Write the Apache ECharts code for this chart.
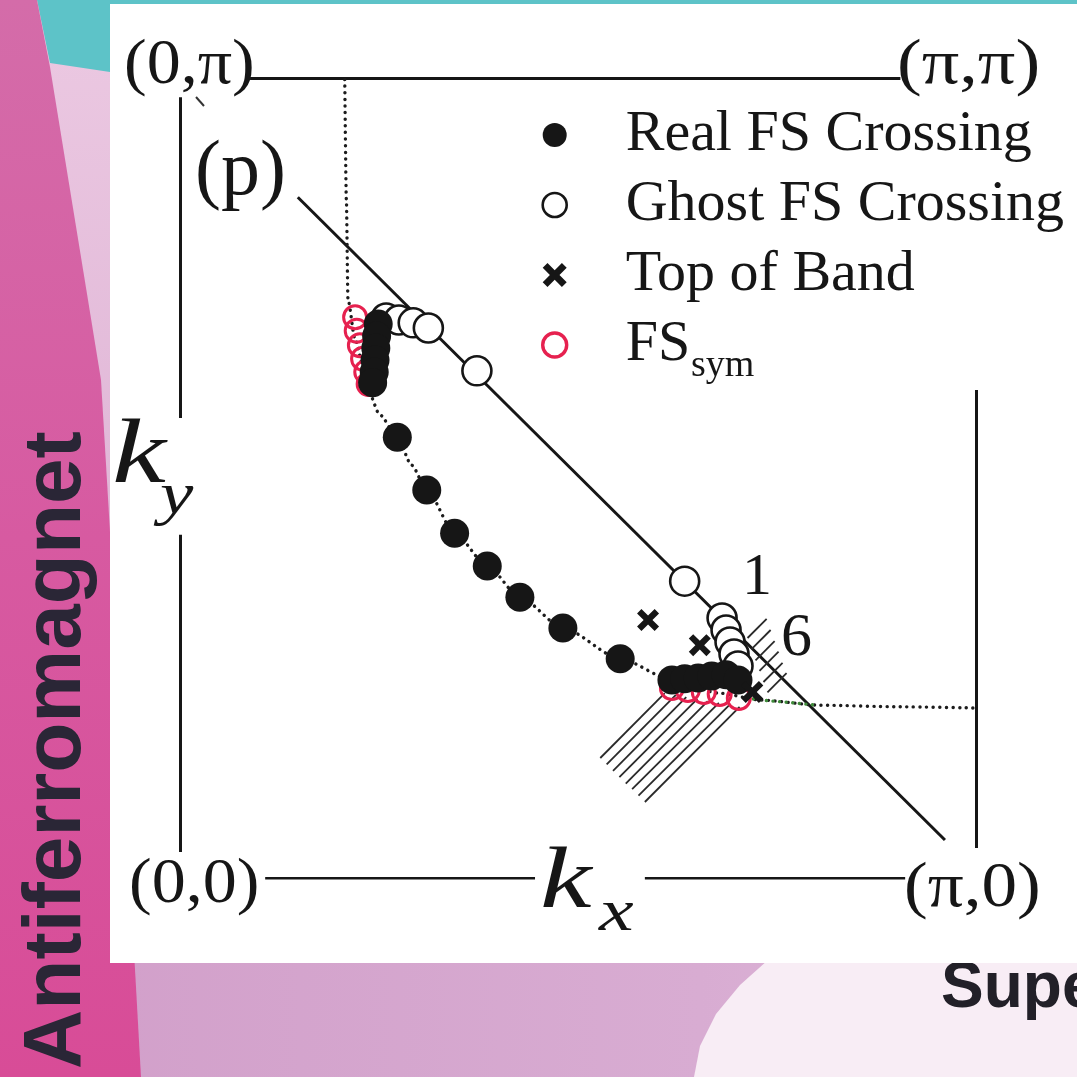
<!DOCTYPE html>
<html>
<head>
<meta charset="utf-8">
<script src="https://cdn.jsdelivr.net/npm/echarts@6/dist/echarts.min.js"></script>
<style>
  html, body { margin: 0; padding: 0; background: #ffffff; }
  #chart { width: 1077px; height: 1077px; }
</style>
</head>
<body>
<div id="chart"></div>
<script>
// Momentum space in units of pi: kx, ky both run 0..1 across the zone.
const cornerLabels = ['(0,\u03c0)', '(\u03c0,\u03c0)', '(0,0)', '(\u03c0,0)'];
const seriesNames = ['Real FS Crossing', 'Ghost FS Crossing', 'Top of Band', 'FS_sym'];
const cutLabels = ['1', '6'];

// Zone frame segments (broken where the corner and axis labels sit)
const frameLines = [
  [[0.088, 1.0], [0.905, 1.0]],
  [[0, 0.976], [0, 0.575]],
  [[0, 0.429], [0, 0.0325]],
  [[0.107, 0], [0.446, 0]],
  [[0.584, 0], [0.911, 0]],
  [[1, 0.610], [1, 0.0375]]
];

// Antiferromagnetic zone boundary
const zoneBoundary = [[0.148, 0.851], [0.961, 0.0475]];

// Symmetrized Fermi surface contour
const fsCurve = [
  [0.207, 0.998], [0.209, 0.848], [0.211, 0.723], [0.220, 0.673], [0.236, 0.610],
  [0.251, 0.579], [0.273, 0.551], [0.291, 0.516], [0.310, 0.485], [0.345, 0.431],
  [0.386, 0.390], [0.427, 0.351], [0.481, 0.3125], [0.553, 0.274], [0.618, 0.2475],
  [0.678, 0.231], [0.729, 0.2225], [0.804, 0.216], [0.905, 0.214], [0.999, 0.2125]
];
const fsCurveNode = [[0.712, 0.225], [0.729, 0.2225], [0.770, 0.219], [0.800, 0.216]];

// Measured crossings
const realFS = [
  [0.249, 0.6925], [0.247, 0.6775], [0.246, 0.6625], [0.245, 0.6475], [0.244, 0.6325],
  [0.242, 0.619], [0.273, 0.551], [0.310, 0.485], [0.345, 0.431], [0.386, 0.390],
  [0.427, 0.351], [0.481, 0.3125], [0.553, 0.274], [0.618, 0.2475], [0.634, 0.249],
  [0.651, 0.250], [0.668, 0.2525], [0.686, 0.254], [0.701, 0.2475]
];
const ghostFS = [
  [0.259, 0.700], [0.275, 0.6975], [0.293, 0.694], [0.312, 0.6875], [0.373, 0.634],
  [0.634, 0.371], [0.681, 0.325], [0.686, 0.310], [0.691, 0.295], [0.696, 0.280],
  [0.701, 0.265]
];
const topOfBand = [[0.588, 0.3225], [0.653, 0.291], [0.719, 0.2325]];
const fsSym = [
  [0.220, 0.701], [0.222, 0.684], [0.226, 0.666], [0.230, 0.649], [0.234, 0.6325],
  [0.237, 0.6175], [0.618, 0.2375], [0.638, 0.235], [0.658, 0.2325], [0.678, 0.230],
  [0.702, 0.225]
];

// Measurement cuts near the node region
const cutsLower = [
  [[0.528, 0.150], [0.609, 0.231]], [[0.536, 0.142], [0.623, 0.229]],
  [[0.544, 0.134], [0.636, 0.226]], [[0.552, 0.126], [0.650, 0.224]],
  [[0.560, 0.118], [0.663, 0.221]], [[0.568, 0.111], [0.677, 0.219]],
  [[0.576, 0.103], [0.690, 0.216]], [[0.584, 0.095], [0.703, 0.214]]
];
const cutsUpper = [
  [[0.713, 0.300], [0.737, 0.324]], [[0.718, 0.286], [0.742, 0.310]],
  [[0.723, 0.272], [0.747, 0.296]], [[0.728, 0.259], [0.752, 0.283]],
  [[0.733, 0.245], [0.757, 0.269]], [[0.738, 0.232], [0.762, 0.256]]
];

const SERIF = '"Liberation Serif", "DejaVu Serif", serif';
const SANS = '"Liberation Sans", "DejaVu Sans", sans-serif';
const INK = '#161616';
const RED = '#e6214f';
const CROSS = 'path://M2,0 L5,3 L8,0 L10,2 L7,5 L10,8 L8,10 L5,7 L2,10 L0,8 L3,5 L0,2 Z';

const chart = echarts.init(document.getElementById('chart'), null, { renderer: 'canvas' });

// Serif annotation placed at (x, y); sx widens the glyphs horizontally.
function serifText(text, x, y, size, italic, sx) {
  return {
    type: 'text', z: 50, x: x, y: y, scaleX: sx || 1,
    style: {
      text: text, x: 0, y: 0, fill: INK,
      font: (italic ? 'italic ' : '') + size + 'px ' + SERIF,
      verticalAlign: 'middle', align: 'left'
    }
  };
}

const graphics = [
  // slide backdrop
  { type: 'rect', z: -20, shape: { x: 0, y: 0, width: 1077, height: 1077 },
    style: { fill: new echarts.graphic.LinearGradient(0, 0, 0, 1, [
      { offset: 0, color: '#ecc9e2' }, { offset: 1, color: '#d3a3cb' }]) } },
  { type: 'rect', z: -19, shape: { x: 0, y: 960, width: 1077, height: 117 },
    style: { fill: new echarts.graphic.LinearGradient(0, 0, 1, 0, [
      { offset: 0, color: '#d19ec9' }, { offset: 0.65, color: '#d8acd2' }, { offset: 1, color: '#e0b8da' }]) } },
  { type: 'polygon', z: -18, shape: { points: [[768, 960], [1077, 960], [1077, 1077], [694, 1077], [700, 1046], [716, 1014], [740, 985]] },
    style: { fill: '#f8edf5' } },
  { type: 'polygon', z: -17, shape: { points: [[37, 0], [1077, 0], [1077, 4], [110, 4], [110, 72], [50, 63]] },
    style: { fill: '#5dc3c8' } },
  { type: 'polygon', z: -16, shape: { points: [[0, 0], [37, 0], [50, 67], [88, 300], [101, 380], [120, 700], [141, 1077], [0, 1077]] },
    style: { fill: new echarts.graphic.LinearGradient(0, 0, 0, 1, [
      { offset: 0, color: '#d46ca9' }, { offset: 0.5, color: '#d75aa1' }, { offset: 1, color: '#d84c97' }]) } },
  { type: 'text', z: -15, rotation: Math.PI / 2, x: 57, y: 750,
    style: { text: 'Antiferromagnet', x: 0, y: 0, align: 'center', verticalAlign: 'middle',
      font: 'bold 82px ' + SANS, fill: '#2a2636' } },
  { type: 'text', z: -15,
    style: { text: 'Superconductor', x: 941, y: 989, align: 'left', verticalAlign: 'middle',
      font: 'bold 64px ' + SANS, fill: '#222028' } },
  // figure panel
  { type: 'rect', z: -10, shape: { x: 110, y: 4, width: 967, height: 959 }, style: { fill: '#ffffff' } },
  // corner and axis labels
  serifText(cornerLabels[0], 124, 66, 63, false, 1.08),
  serifText(cornerLabels[1], 897, 66, 63, false, 1.18),
  serifText(cornerLabels[2], 129, 885, 63, false, 1.08),
  serifText(cornerLabels[3], 904, 889, 63, false, 1.13),
  serifText('(p)', 195, 174, 78, false),
  serifText('k', 112, 458, 90, true, 1.35),
  serifText('y', 160, 497, 60, true, 1.25),
  serifText('k', 540, 884, 86, true, 1.35),
  serifText('x', 599, 914, 60, true, 1.3),
  serifText(cutLabels[0], 742, 578, 60, false),
  serifText(cutLabels[1], 781, 639, 62, false),
  // subscript of the FS_sym legend entry
  serifText('sym', 691, 366, 38, false),
  { type: 'line', z: 50, shape: { x1: 196, y1: 97, x2: 204, y2: 106 }, style: { stroke: '#333', lineWidth: 2 } }
];

function segs(list) { return list.map(function (c) { return { coords: c }; }); }

const option = {
  animation: false,
  grid: { left: 180, top: 78, width: 796, height: 800, containLabel: false },
  xAxis: { type: 'value', min: 0, max: 1, show: false },
  yAxis: { type: 'value', min: 0, max: 1, show: false },
  graphic: graphics,
  legend: {
    orient: 'vertical', left: 536, top: 101,
    itemWidth: 24, itemHeight: 24, itemGap: 12,
    selectedMode: false,
    data: [
      { name: seriesNames[0] },
      { name: seriesNames[1], itemStyle: { borderWidth: 2.6 } },
      { name: seriesNames[2] },
      { name: seriesNames[3], itemStyle: { borderWidth: 3.4 } }
    ],
    formatter: function (name) {
      return '{g|}{m|' + (name === 'FS_sym' ? 'FS' : name) + '}';
    },
    textStyle: {
      color: INK, fontFamily: SERIF, fontSize: 58,
      rich: {
        g: { width: 54 },
        m: { fontSize: 58, fontFamily: SERIF, color: INK, lineHeight: 58 }
      }
    }
  },
  series: [
    { type: 'lines', name: 'frame', coordinateSystem: 'cartesian2d', silent: true, z: 2,
      data: segs(frameLines), lineStyle: { color: INK, width: 3, opacity: 1 } },
    { type: 'lines', name: 'zone boundary', coordinateSystem: 'cartesian2d', silent: true, z: 2,
      data: segs([zoneBoundary]), lineStyle: { color: INK, width: 3, opacity: 1 } },
    { type: 'lines', name: 'cuts', coordinateSystem: 'cartesian2d', silent: true, z: 2,
      data: segs(cutsLower.concat(cutsUpper)), lineStyle: { color: '#2a2a2a', width: 1.8, opacity: 1 } },
    { type: 'line', name: 'FS contour', data: fsCurve, showSymbol: false, silent: true, z: 3,
      smooth: 0.25, smoothMonotone: 'x',
      lineStyle: { color: '#1c1c1c', width: 3.4, type: [0.1, 6.5], cap: 'round' } },
    { type: 'line', name: 'FS contour node', data: fsCurveNode, showSymbol: false, silent: true, z: 3,
      lineStyle: { color: '#3f8a3a', width: 3.4, type: [0.1, 6.5], cap: 'round' } },
    { type: 'scatter', name: 'FS_sym', data: fsSym, symbol: 'circle', symbolSize: 23, z: 4,
      itemStyle: { color: 'rgba(255,255,255,0)', borderColor: RED, borderWidth: 3, opacity: 1 } },
    { type: 'scatter', name: 'Ghost FS Crossing', data: ghostFS, symbol: 'circle', symbolSize: 29, z: 5,
      itemStyle: { color: '#ffffff', borderColor: INK, borderWidth: 2.6, opacity: 1 } },
    { type: 'scatter', name: 'Real FS Crossing', data: realFS, symbol: 'circle', symbolSize: 29, z: 6,
      itemStyle: { color: INK, borderColor: INK, borderWidth: 0, opacity: 1 } },
    { type: 'scatter', name: 'Top of Band', data: topOfBand, symbol: CROSS, symbolSize: 22, z: 7,
      itemStyle: { color: INK, opacity: 1 } }
  ]
};

chart.setOption(option);
</script>
</body>
</html>
